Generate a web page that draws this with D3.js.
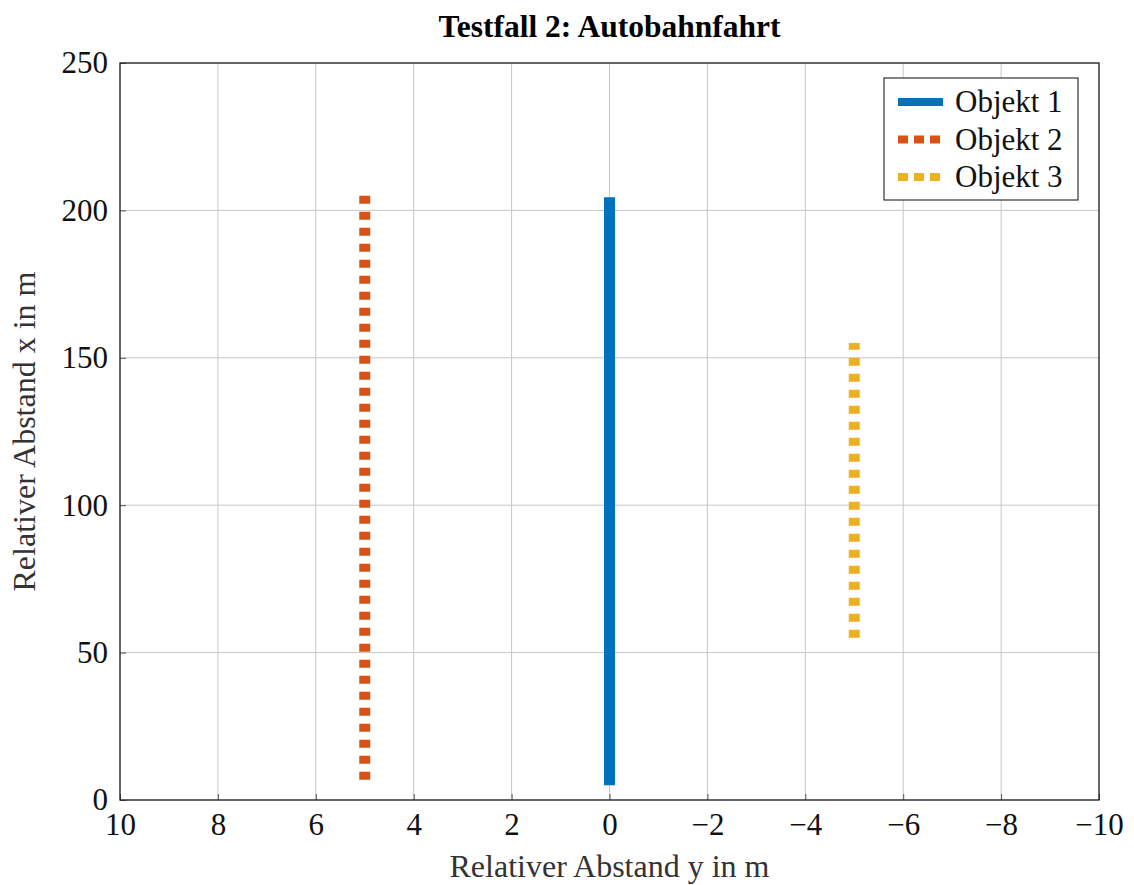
<!DOCTYPE html>
<html>
<head>
<meta charset="utf-8">
<script src="https://d3js.org/d3.v7.min.js"></script>
<style>
  body { margin: 0; background: #fff; }
  text { font-family: "Liberation Serif", "Times New Roman", serif; }
</style>
</head>
<body>
<div id="chart"></div>
<script>
// Daten
var seriesNames = ["Objekt 1", "Objekt 2", "Objekt 3"];
var seriesColors = ["#0072BD", "#D95319", "#EDB120"];
var obj1 = [{y: 0, x: 5}, {y: 0, x: 204.5}];
var obj2 = [{y: 5, x: 205}, {y: 5, x: 5}];
var obj3 = [{y: -5, x: 55}, {y: -5, x: 155}];
var xTicks = [10, 8, 6, 4, 2, 0, -2, -4, -6, -8, -10];
var yTicks = [0, 50, 100, 150, 200, 250];

var width = 1134, height = 885;
var margin = {left: 120, top: 63, right: 35, bottom: 85};
var w = width - margin.left - margin.right,
    h = height - margin.top - margin.bottom;

var svg = d3.select("#chart").append("svg")
    .attr("width", width).attr("height", height);

var g = svg.append("g").attr("transform", `translate(${margin.left},${margin.top})`);

var sx = d3.scaleLinear().domain([10, -10]).range([0, w]);
var sy = d3.scaleLinear().domain([0, 250]).range([h, 0]);

// Gitter
g.append("g").selectAll("line").data(xTicks).enter().append("line")
    .attr("x1", d => sx(d)).attr("x2", d => sx(d))
    .attr("y1", 0).attr("y2", h)
    .attr("stroke", "#c6c6c6").attr("stroke-width", 1);
g.append("g").selectAll("line").data(yTicks).enter().append("line")
    .attr("y1", d => sy(d)).attr("y2", d => sy(d))
    .attr("x1", 0).attr("x2", w)
    .attr("stroke", "#c6c6c6").attr("stroke-width", 1);

// Achsen (Ticks nach innen)
var fmt = d => d < 0 ? "\u2212" + Math.abs(d) : String(d);
var axisX = d3.axisBottom(sx).tickValues(xTicks).tickSizeInner(-6).tickSizeOuter(0).tickPadding(13).tickFormat(fmt);
var axisY = d3.axisLeft(sy).tickValues(yTicks).tickSizeInner(-6).tickSizeOuter(0).tickPadding(12);

var gx = g.append("g").attr("transform", `translate(0,${h})`).call(axisX);
var gy = g.append("g").call(axisY);
[gx, gy].forEach(a => {
  a.select(".domain").remove();
  a.selectAll(".tick line").attr("stroke", "#555");
  a.selectAll("text").attr("font-size", 31).attr("fill", "#111")
    .style("font-family", "'Liberation Serif', serif");
});
gx.selectAll("text").attr("dy", "0.71em");

// Linien
var line = d3.line().x(d => sx(d.y)).y(d => sy(d.x));
var series = [obj1, obj2, obj3];
var dashes = [null, "8 8", "8 8"];
series.forEach((s, i) => {
  g.append("path").datum(s)
    .attr("d", line)
    .attr("fill", "none")
    .attr("stroke", seriesColors[i])
    .attr("stroke-width", 11)
    .attr("stroke-dasharray", dashes[i]);
});

// Rahmen
g.append("rect").attr("x", 0).attr("y", 0).attr("width", w).attr("height", h)
    .attr("fill", "none").attr("stroke", "#222").attr("stroke-width", 1.3);

// Legende
var lg = g.append("g").attr("transform", `translate(${884 - margin.left},${78 - margin.top})`);
lg.append("rect").attr("width", 194).attr("height", 122)
    .attr("fill", "#fff").attr("stroke", "#333").attr("stroke-width", 1.2);
seriesNames.forEach((n, i) => {
  var yy = 24 + i * 37.5;
  lg.append("line").attr("x1", 14).attr("x2", 59).attr("y1", yy).attr("y2", yy)
    .attr("stroke", seriesColors[i]).attr("stroke-width", 8)
    .attr("stroke-dasharray", i === 0 ? null : "10 6");
  lg.append("text").attr("x", 71).attr("y", yy).attr("dy", "0.33em")
    .attr("font-size", 31).attr("fill", "#111").text(n);
});

// Titel und Achsenbeschriftungen
svg.append("text").attr("x", margin.left + w / 2).attr("y", 37)
    .attr("text-anchor", "middle").attr("font-weight", "bold")
    .attr("font-size", 31.5).attr("fill", "#000").text("Testfall 2: Autobahnfahrt");
svg.append("text").attr("x", margin.left + w / 2).attr("y", 877)
    .attr("text-anchor", "middle").attr("font-size", 32).attr("fill", "#333")
    .text("Relativer Abstand y in m");
svg.append("text")
    .attr("transform", `translate(35,${margin.top + h / 2}) rotate(-90)`)
    .attr("text-anchor", "middle").attr("font-size", 32).attr("fill", "#333")
    .text("Relativer Abstand x in m");
</script>
</body>
</html>
